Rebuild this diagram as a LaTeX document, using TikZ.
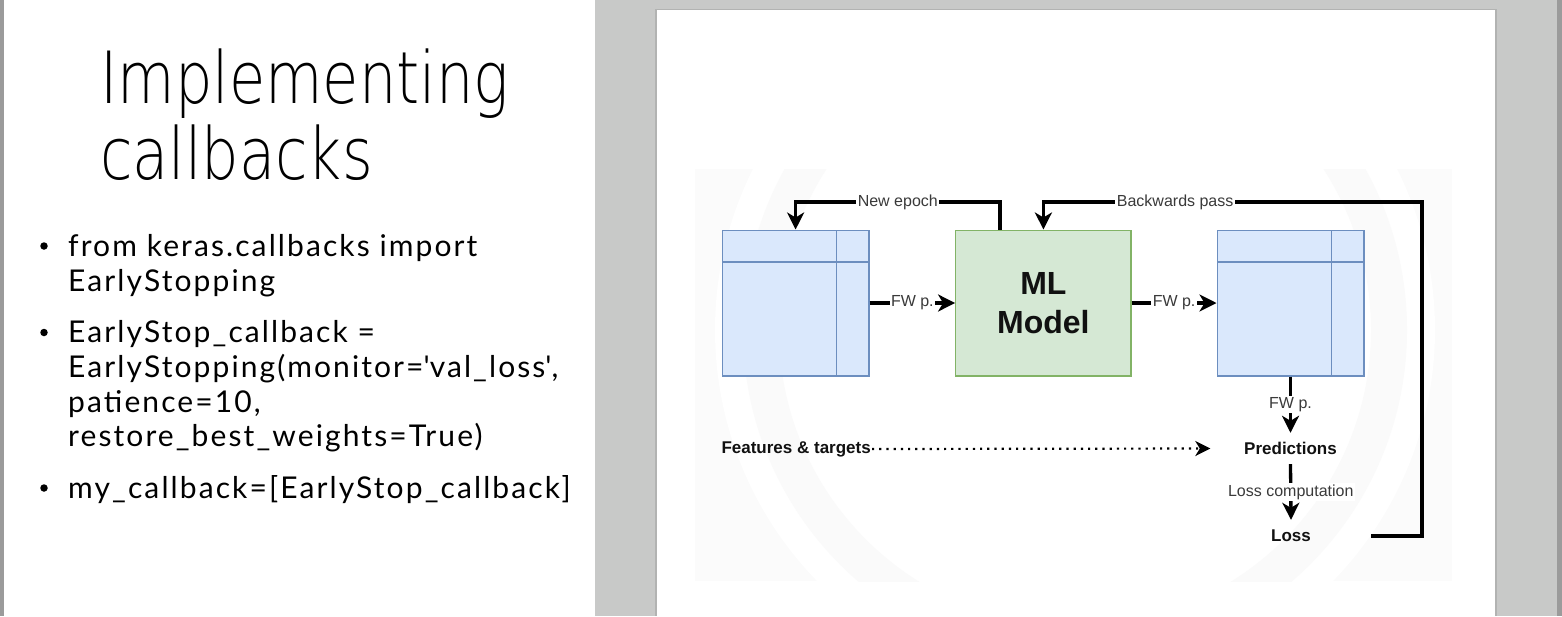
\documentclass[tikz,border=0pt]{standalone}
\usepackage{fontspec}
\usetikzlibrary{arrows.meta}
\setmainfont{Liberation Sans}
\newfontfamily\titlefont{DejaVu Sans ExtraLight}[FakeStretch=0.82]
\newfontfamily\bodyfont{Lato}[LetterSpace=7]
\newfontfamily\diagfont{Liberation Sans}

\definecolor{panelgray}{HTML}{C8C9C8}
\definecolor{edgegray}{HTML}{9B9B9B}
\definecolor{shadowgray}{HTML}{B2B3B2}
\definecolor{tblfill}{HTML}{DAE8FC}
\definecolor{tblline}{HTML}{6C8EBF}
\definecolor{mlfill}{HTML}{D5E8D4}
\definecolor{mlline}{HTML}{82B366}
\definecolor{haze}{HTML}{FAFAFA}
\definecolor{labelgray}{HTML}{3A3A3A}
\definecolor{inkgray}{HTML}{111111}

\tikzset{
  titletext/.style={anchor=base west, inner sep=0pt, font=\titlefont\fontsize{72}{80}\selectfont},
  itemtext/.style={anchor=base west, inner sep=0pt, font=\bodyfont\fontsize{30}{35}\selectfont},
  itemdot/.style={circle, fill=black, inner sep=0pt, minimum size=7.5pt},
  tbl/.style={draw=tblline, fill=tblfill, line width=1.3pt, minimum width=146.7pt,
    minimum height=145.7pt, inner sep=0pt},
  tblrule/.style={draw=tblline, line width=1.3pt},
  mlbox/.style={draw=mlline, fill=mlfill, line width=1.3pt, minimum width=175.3pt,
    minimum height=145.7pt, align=center, text=inkgray,
    font=\diagfont\bfseries\fontsize{32}{39}\selectfont},
  flow/.style={line width=3.3pt, -{Stealth[length=17pt,width=17pt,inset=5pt]}},
  dotflow/.style={line width=2.2pt, dash pattern=on 2.2pt off 5pt,
    -{Stealth[length=15pt,width=15pt,inset=4.5pt]}},
  lbl/.style={fill=white, inner sep=1.5pt, text=labelgray,
    font=\diagfont\fontsize{16}{18}\selectfont},
  tag/.style={inner sep=1pt, text=inkgray, font=\diagfont\bfseries\fontsize{17}{20}\selectfont}
}

\begin{document}
\begin{tikzpicture}[x=1pt,y=-1pt]
\useasboundingbox (0,0) rectangle (1562,616);

% slide background and frame
\fill[white] (0,0) rectangle (1562,616);
\fill[edgegray] (0,0) rectangle (4,616);
\fill[panelgray] (595,0) rectangle (1562,616);
\fill[edgegray] (1557,0) rectangle (1562,616);

% page with a soft shadow
\fill[shadowgray] (655,9) rectangle (1497,616);
\fill[white] (657,10) rectangle (1495,616);

% faint backdrop of the embedded figure
\begin{scope}
  \clip (695,169) rectangle (1452,581);
  \fill[white!98.5!black] (695,169) rectangle (1452,581);
  \fill[white] (1075,330) circle (360);
  \draw[haze, line width=36pt] (1075,330) circle (314);
\end{scope}

% title
\node[titletext] (t1) at (100,103) {Implementing};
\node[titletext] (t2) at (100,179) {callbacks};

% bullet list
\node[itemdot] (d1) at (44,246) {};
\node[itemtext] (b1a) at (68,256) {from keras.callbacks import};
\node[itemtext] (b1b) at (68,291.5) {EarlyStopping};
\node[itemdot] (d2) at (44,332.5) {};
\node[itemtext] (b2a) at (68,342.5) {EarlyStop\_callback =};
\node[itemtext] (b2b) at (68,377) {EarlyStopping(monitor=\textquotesingle val\_loss\textquotesingle,};
\node[itemtext] (b2c) at (68,412.5) {patience=10,};
\node[itemtext] (b2d) at (68,446.5) {restore\_best\_weights=True)};
\node[itemdot] (d3) at (44,488) {};
\node[itemtext] (b3a) at (68,498) {my\_callback=[EarlyStop\_callback]};

% input table
\node[tbl] (inT) at (795.6,303) {};
\draw[tblrule] (722.3,262) -- (869,262);
\draw[tblrule] (836.7,230.2) -- (836.7,375.8);

% model
\node[mlbox] (ml) at (1043.4,303) {ML\\Model};

% output table
\node[tbl] (outT) at (1290.5,303) {};
\draw[tblrule] (1217.2,262) -- (1363.8,262);
\draw[tblrule] (1331.7,230.2) -- (1331.7,375.8);

% text nodes
\node[tag, anchor=east] (feat) at (872,449) {Features \& targets};
\node[tag, minimum width=160pt, minimum height=31pt] (pred) at (1290.5,448.5) {Predictions};
\node[tag, minimum width=160pt, minimum height=32pt] (loss) at (1291,536) {Loss};

% connectors
\draw[flow] (inT.east) -- node[lbl] {FW p.} (ml.west);
\draw[flow] (ml.east) -- node[lbl] {FW p.} (outT.west);
\draw[flow] (outT.south) -- node[lbl] {FW p.} (pred.north);
\draw[flow] (pred.south) -- node[lbl] {Loss computation} (loss.north);
\draw[dotflow] (feat.east) -- (pred.west);

\coordinate (epochTop) at (1000,202);
\draw[flow] ([xshift=-43.4pt]ml.north) -- (epochTop) -| node[lbl, pos=0.25] {New epoch} (inT.north);

\coordinate (backCorner) at (1422,202);
\draw[flow] (loss.east) -| (backCorner) -| node[lbl, pos=0.326] {Backwards pass} (ml.north);
\end{tikzpicture}
\end{document}
